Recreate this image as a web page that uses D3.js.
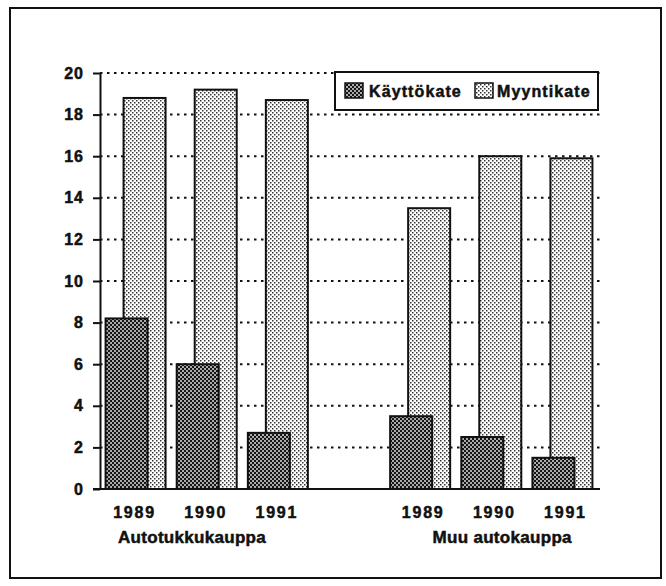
<!DOCTYPE html>
<html>
<head>
<meta charset="utf-8">
<script src="https://cdn.jsdelivr.net/npm/d3@7"></script>
<style>
  body { margin: 0; background: #fff; }
  text { font-family: "Liberation Sans", Arial, sans-serif; fill: #111; stroke: #111; stroke-width: 0.5; }
</style>
</head>
<body>
<svg width="666" height="586"></svg>
<script>
var groups = ["Autotukkukauppa", "Muu autokauppa"];
var years = ["1989", "1990", "1991"];
var autoKayttokate = [8.2, 6.0, 2.7];
var autoMyyntikate = [18.8, 19.2, 18.7];
var muuKayttokate = [3.5, 2.5, 1.5];
var muuMyyntikate = [13.5, 16.0, 15.9];
var yTicks = [0, 2, 4, 6, 8, 10, 12, 14, 16, 18, 20];
var seriesNames = ["Käyttökate", "Myyntikate"];

var svg = d3.select("svg");

// slots: three years per group with an empty slot between the groups
var slots = [];
years.forEach(function(y) { slots.push("A" + y); });
slots.push("gap");
years.forEach(function(y) { slots.push("M" + y); });

var data = [];
years.forEach(function(y, i) {
  data.push({slot: "A" + y, year: y, kaytto: autoKayttokate[i], myynti: autoMyyntikate[i]});
});
years.forEach(function(y, i) {
  data.push({slot: "M" + y, year: y, kaytto: muuKayttokate[i], myynti: muuMyyntikate[i]});
});

var x = d3.scaleBand().domain(slots).range([100, 598]).padding(0);
var y = d3.scaleLinear().domain([0, 20]).range([489, 73]);

// patterns
var defs = svg.append("defs");
var pd = defs.append("pattern").attr("id", "dark")
    .attr("width", 4).attr("height", 4).attr("patternUnits", "userSpaceOnUse");
pd.append("rect").attr("width", 4).attr("height", 4).attr("fill", "#151515");
pd.append("rect").attr("x", 0.2).attr("y", 0.2).attr("width", 1.6).attr("height", 1.6).attr("fill", "#fff");
pd.append("rect").attr("x", 2.2).attr("y", 2.2).attr("width", 1.6).attr("height", 1.6).attr("fill", "#fff");

var pl = defs.append("pattern").attr("id", "light")
    .attr("width", 4).attr("height", 4).attr("patternUnits", "userSpaceOnUse");
pl.append("rect").attr("width", 4).attr("height", 4).attr("fill", "#fff");
pl.append("rect").attr("width", 1.5).attr("height", 1.5).attr("fill", "#333");
pl.append("rect").attr("x", 2).attr("y", 2).attr("width", 1.5).attr("height", 1.5).attr("fill", "#333");

// frame
svg.append("rect")
    .attr("x", 10).attr("y", 8).attr("width", 651).attr("height", 570)
    .attr("fill", "none").attr("stroke", "#111").attr("stroke-width", 2);

// dotted grid
svg.append("g").selectAll("line")
  .data(yTicks.filter(function(d) { return d > 0; }))
  .enter().append("line")
    .attr("x1", 100).attr("x2", 601)
    .attr("y1", function(d) { return y(d); })
    .attr("y2", function(d) { return y(d); })
    .attr("stroke", "#111").attr("stroke-width", 2)
    .attr("stroke-dasharray", "2.5,4.5");

var bw = 42, off = 30;

// Myyntikate bars (behind)
svg.append("g").selectAll("rect")
  .data(data).enter().append("rect")
    .attr("x", function(d) { return x(d.slot) + x.bandwidth() / 2 - off + 18; })
    .attr("y", function(d) { return y(d.myynti); })
    .attr("width", bw)
    .attr("height", function(d) { return y(0) - y(d.myynti); })
    .attr("fill", "url(#light)")
    .attr("stroke", "#111").attr("stroke-width", 2);

// Käyttökate bars (front)
svg.append("g").selectAll("rect")
  .data(data).enter().append("rect")
    .attr("x", function(d) { return x(d.slot) + x.bandwidth() / 2 - off; })
    .attr("y", function(d) { return y(d.kaytto); })
    .attr("width", bw)
    .attr("height", function(d) { return y(0) - y(d.kaytto); })
    .attr("fill", "url(#dark)")
    .attr("stroke", "#111").attr("stroke-width", 2);

// y axis
var yAxis = svg.append("g")
    .attr("transform", "translate(100,0)")
    .call(d3.axisLeft(y).tickValues(yTicks).tickSize(7).tickPadding(9).tickSizeOuter(0));
yAxis.select(".domain").attr("stroke", "#111").attr("stroke-width", 2);
yAxis.selectAll(".tick line").attr("stroke", "#111").attr("stroke-width", 2);
yAxis.selectAll(".tick text")
    .attr("font-size", 16).attr("font-weight", "bold")
    .attr("letter-spacing", 1)
    .attr("font-family", "Liberation Sans, Arial, sans-serif")
    .attr("fill", "#111");

// x baseline
svg.append("line")
    .attr("x1", 93).attr("x2", 600)
    .attr("y1", y(0)).attr("y2", y(0))
    .attr("stroke", "#111").attr("stroke-width", 2);

// year labels
svg.append("g").selectAll("text")
  .data(data).enter().append("text")
    .attr("x", function(d) { return x(d.slot) + x.bandwidth() / 2 + (d.slot[0] === "A" ? -1 : 3); })
    .attr("y", 518)
    .attr("text-anchor", "middle")
    .attr("font-size", 16).attr("font-weight", "bold")
    .attr("letter-spacing", 1.8)
    .text(function(d) { return d.year; });

// group labels
svg.append("g").selectAll("text")
  .data(groups).enter().append("text")
    .attr("x", function(d, i) { return i === 0 ? x("A1989") + 18 : x("M1989") + 48; })
    .attr("y", 543)
    .attr("font-size", 17)
    .attr("font-weight", "bold")
    .attr("letter-spacing", 0.3)
    .text(function(d) { return d; });

// legend
var lg = svg.append("g");
lg.append("rect")
    .attr("x", 335).attr("y", 72).attr("width", 263).attr("height", 38)
    .attr("fill", "#fff").attr("stroke", "#111").attr("stroke-width", 2);
var items = [
  {name: seriesNames[0], fill: "url(#dark)", sx: 345, tx: 369},
  {name: seriesNames[1], fill: "url(#light)", sx: 475, tx: 497}
];
items.forEach(function(it) {
  lg.append("rect")
      .attr("x", it.sx).attr("y", 83).attr("width", 18).attr("height", 15)
      .attr("fill", it.fill).attr("stroke", "#111").attr("stroke-width", 1.5);
  lg.append("text")
      .attr("x", it.tx).attr("y", 97)
      .attr("font-size", 16).attr("font-weight", "bold")
      .attr("letter-spacing", 1.1)
      .text(it.name);
});
</script>
</body>
</html>
